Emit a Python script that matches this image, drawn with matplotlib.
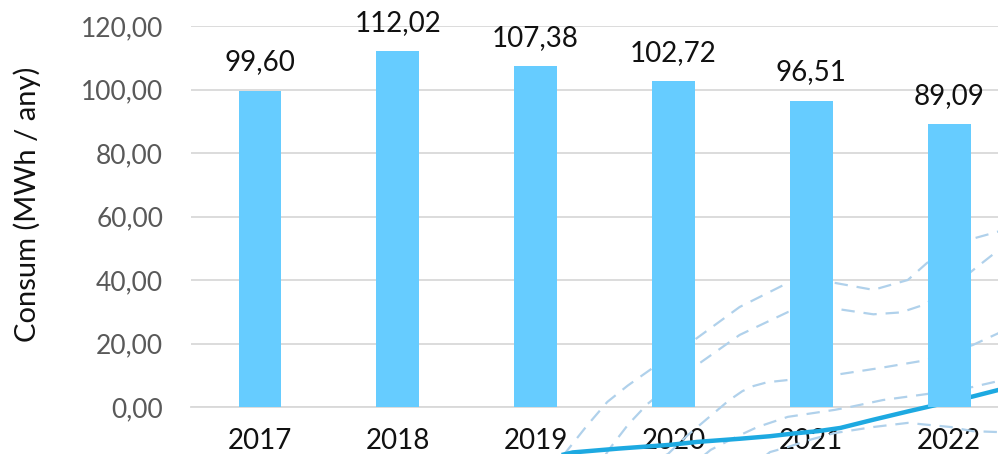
import matplotlib
matplotlib.use("Agg")
import matplotlib.pyplot as plt
from matplotlib.ticker import FuncFormatter

plt.rcParams['font.family'] = ['Lato', 'DejaVu Sans']

# Consum anual (barres)
Years = [2017, 2018, 2019, 2020, 2021, 2022]
Consum = [99.60, 112.02, 107.38, 102.72, 96.51, 89.09]

# Linies de fons (tendencia i bandes), llegides a ull: (any, valor)
TrendYears = [2019.10, 2019.27, 2019.60, 2019.98, 2020.17, 2020.48, 2020.70, 2020.88, 2021.05, 2021.21, 2021.45, 2021.70, 2021.84, 2022.17, 2022.36, 2022.45]
TrendVals = [-16.0, -14.3, -13.1, -11.9, -11.0, -10.0, -9.2, -8.3, -7.6, -6.6, -4.0, -1.4, 0.0, 3.3, 5.4, 6.4]

Band1Years = [2019.10, 2019.22, 2019.37, 2019.52, 2019.67, 2019.83, 2020.17, 2020.48, 2020.83, 2021.00, 2021.17, 2021.45, 2021.70, 2021.84, 2022.17, 2022.36, 2022.45]
Band1Vals = [-19.0, -14.2, -6.0, 1.6, 6.8, 11.7, 21.7, 31.5, 39.1, 40.0, 39.1, 36.9, 40.0, 45.4, 53.0, 55.3, 56.5]

Band2Years = [2019.45, 2019.53, 2019.67, 2019.81, 2020.00, 2020.17, 2020.48, 2020.83, 2021.00, 2021.17, 2021.45, 2021.65, 2021.81, 2022.00, 2022.17, 2022.36, 2022.45]
Band2Vals = [-19.0, -13.5, -5.6, 0.9, 7.6, 13.2, 22.7, 29.9, 31.2, 31.0, 29.2, 29.8, 32.1, 37.0, 43.0, 49.5, 53.0]

Band3Years = [2019.88, 2019.96, 2020.10, 2020.25, 2020.40, 2020.50, 2020.58, 2020.68, 2020.83, 2021.17, 2021.50, 2021.84, 2022.17, 2022.36, 2022.45]
Band3Vals = [-16.5, -14.8, -9.0, -3.5, 2.0, 5.0, 6.6, 7.8, 8.5, 10.1, 12.3, 14.8, 19.5, 23.3, 25.0]

Band4Years = [2020.20, 2020.27, 2020.45, 2020.61, 2020.83, 2021.17, 2021.28, 2021.52, 2021.84, 2022.17, 2022.36, 2022.45]
Band4Vals = [-16.0, -13.5, -9.5, -6.3, -3.1, -0.9, 0.0, 2.2, 4.1, 6.3, 8.2, 9.0]

Band5Years = [2020.65, 2020.70, 2020.83, 2021.00, 2021.17, 2021.45, 2021.70, 2022.01, 2022.17, 2022.36, 2022.45]
Band5Vals = [-16.0, -14.2, -12.6, -10.2, -8.2, -6.3, -5.0, -6.3, -7.6, -7.9, -7.9]


def toPos(PYears):
    # posicio de categoria (0 = 2017)
    return [y - Years[0] for y in PYears]


fig = plt.figure(figsize=(9.98, 4.54), dpi=100)
ax = fig.add_axes([0.1914, 0.1035, 0.8287, 0.8392])

Pos = list(range(len(Years)))
Bars = ax.bar(Pos, Consum, width=0.31, color="#66CCFF", zorder=3)

DashColor = "#B0D1EB"
for Ys, Vs in [(Band1Years, Band1Vals), (Band2Years, Band2Vals), (Band3Years, Band3Vals),
               (Band4Years, Band4Vals), (Band5Years, Band5Vals)]:
    ax.plot(toPos(Ys), Vs, color=DashColor, linewidth=1.6, linestyle=(0, (6, 4)),
            zorder=2, clip_on=False)
ax.plot(toPos(TrendYears), TrendVals, color="#1DA9E1", linewidth=3.2, zorder=2.5,
        clip_on=False, solid_capstyle='butt', solid_joinstyle='round')

for Rect, Value in zip(Bars, Consum):
    ax.annotate("{:.2f}".format(Value).replace('.', ','),
                (Rect.get_x() + Rect.get_width() / 2, Value),
                xytext=(0, 11), textcoords="offset points",
                ha='center', va='bottom', fontsize=20, color="#111111")

ax.set_xlim(-0.5, 5.5)
ax.set_ylim(0, 120)
ax.set_yticks([0, 20, 40, 60, 80, 100, 120])
ax.yaxis.set_major_formatter(FuncFormatter(lambda v, p: "{:.2f}".format(v).replace('.', ',')))
ax.set_xticks(Pos)
ax.set_xticklabels([str(y) for y in Years])

ax.grid(axis='y', color="#D9D9D9", linewidth=1.3)
ax.set_axisbelow(True)
for Side in ['top', 'right', 'left']:
    ax.spines[Side].set_visible(False)
ax.spines['bottom'].set_color("#D9D9D9")
ax.spines['bottom'].set_linewidth(1.3)
ax.spines['bottom'].set_zorder(1)

ax.tick_params(axis='y', length=0, pad=20, labelsize=19, labelcolor="#595959")
ax.tick_params(axis='x', length=0, pad=15, labelsize=20, labelcolor="#111111")

fig.text(27 / 998, 0.55, "Consum (MWh / any)", rotation=90, ha='center', va='center',
         fontsize=21, color="#111111")

fig.savefig("out.png", dpi=100)
